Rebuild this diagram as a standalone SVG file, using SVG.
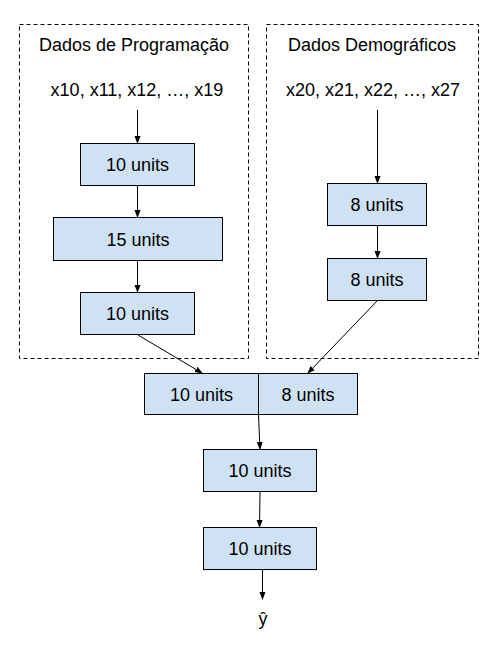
<svg xmlns="http://www.w3.org/2000/svg" width="504" height="651" viewBox="0 0 504 651">
<defs>
<marker id="ah" viewBox="0 0 8 8" refX="7" refY="4" markerWidth="8" markerHeight="8" markerUnits="userSpaceOnUse" orient="auto">
<path d="M0,1 L8,4 L0,7 Z" fill="#000"/>
</marker>
<style>
text{font-family:"Liberation Sans",Arial,sans-serif;font-size:18px;fill:#000;text-anchor:middle}
.grp{fill:none;stroke:#000;stroke-width:1;stroke-dasharray:4,3}
.box{fill:#cfe2f3;stroke:#000;stroke-width:1}
.c{fill:none;stroke:#000;stroke-width:1;marker-end:url(#ah)}
</style>
</defs>
<rect width="504" height="651" fill="#fff"/>
<g id="grp-prog">
<rect class="grp" x="19.5" y="24.5" width="229" height="334"/>
<text x="134" y="51">Dados de Programação</text>
<text x="137" y="96">x10, x11, x12, …, x19</text>
</g>
<g id="grp-demo">
<rect class="grp" x="266.5" y="24.5" width="212" height="334"/>
<text x="372" y="51">Dados Demográficos</text>
<text x="373" y="96">x20, x21, x22, …, x27</text>
</g>
<g id="p1"><rect class="box" x="80.5" y="143.5" width="114" height="42"/><text x="137.5" y="171">10 units</text></g>
<g id="p2"><rect class="box" x="53.5" y="217.5" width="169" height="43"/><text x="138" y="246">15 units</text></g>
<g id="p3"><rect class="box" x="80.5" y="292.5" width="114" height="42"/><text x="137.5" y="320">10 units</text></g>
<g id="d1"><rect class="box" x="327.5" y="183.5" width="99" height="42"/><text x="377" y="211">8 units</text></g>
<g id="d2"><rect class="box" x="327.5" y="258.5" width="99" height="42"/><text x="377" y="286">8 units</text></g>
<g id="m1"><rect class="box" x="144.5" y="373.5" width="114" height="41"/><text x="201.5" y="400.5">10 units</text></g>
<g id="m2"><rect class="box" x="258.5" y="373.5" width="99" height="41"/><text x="308" y="400.5">8 units</text></g>
<g id="h1"><rect class="box" x="203.5" y="449.5" width="113" height="42"/><text x="260" y="477">10 units</text></g>
<g id="h2"><rect class="box" x="203.5" y="527.5" width="113" height="42"/><text x="260" y="555">10 units</text></g>
<g id="out"><text x="263" y="625">ŷ</text></g>
<g id="connectors">
<path class="c" d="M137.5,110 L137.5,143"/>
<path class="c" d="M137.5,186 L137.5,217"/>
<path class="c" d="M137.5,261 L137.5,292"/>
<path class="c" d="M377.5,110 L377.5,183"/>
<path class="c" d="M377.5,226 L377.5,258"/>
<path class="c" d="M138,335 L202,373"/>
<path class="c" d="M377,301 L308,373"/>
<path class="c" d="M258.5,415 L260,449"/>
<path class="c" d="M260,492 L259.5,527"/>
<path class="c" d="M262.5,570 L262.5,599"/>
</g>
</svg>
